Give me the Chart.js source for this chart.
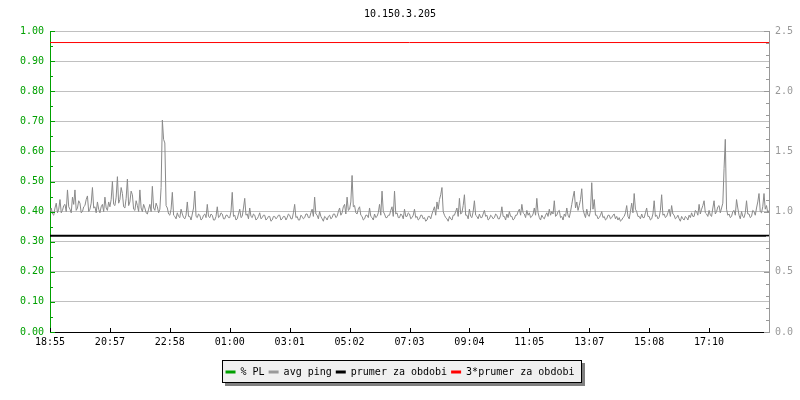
<!DOCTYPE html>
<html><head><meta charset="utf-8">
<script src="https://cdn.jsdelivr.net/npm/chart.js@4/dist/chart.umd.min.js"></script>
<style>html,body{margin:0;padding:0;background:#fff}</style>
</head><body>
<canvas id="c" width="800" height="400"></canvas>
<script>
const chartTitle = '10.150.3.205';
const timeLabels = ['18:55','20:57','22:58','01:00','03:01','05:02','07:03','09:04','11:05','13:07','15:08','17:10'];
const plValues = [];
const pingValues = [
1.00,1.03,0.98,0.97,1.03,1.07,0.99,1.02,1.10,0.99,1.01,1.05,1.06,1.00,1.18,1.04,1.02,0.99,1.12,1.06,
1.18,1.01,1.03,1.09,1.07,0.99,1.00,1.04,1.05,1.10,1.13,1.00,1.02,1.07,1.20,1.03,1.04,0.99,1.08,1.02,
0.99,1.04,1.06,1.00,1.12,1.03,1.01,1.08,1.04,1.10,1.25,1.06,1.05,1.12,1.29,1.07,1.10,1.20,1.15,1.04,
1.03,1.11,1.27,1.05,1.08,1.17,1.14,1.02,1.01,1.09,1.05,1.00,1.18,1.03,1.00,1.06,1.03,0.99,0.98,1.02,
1.06,1.00,1.21,1.03,1.01,1.07,1.04,0.99,1.02,1.20,1.76,1.60,1.57,1.05,1.03,0.98,0.97,1.02,1.16,0.97,
0.96,0.94,0.99,0.96,0.95,1.02,0.98,0.95,0.94,0.97,1.08,0.96,0.96,0.93,0.98,1.03,1.17,0.96,0.95,0.98,
0.97,0.93,0.94,0.97,0.98,0.95,1.06,0.96,0.95,0.98,0.97,0.93,0.93,0.96,1.04,0.95,0.96,0.99,0.98,0.94,
0.94,0.97,0.97,0.95,0.95,1.00,1.16,0.96,0.97,0.93,0.94,0.98,1.02,0.95,0.96,1.03,1.11,0.97,0.98,0.94,
1.03,0.96,0.95,0.98,0.97,0.93,0.94,0.96,0.99,0.94,0.95,0.97,0.97,0.93,0.94,0.96,0.96,0.92,0.93,0.96,
0.96,0.94,0.95,0.97,0.97,0.93,0.94,0.96,0.96,0.93,0.95,0.98,0.97,0.94,0.94,0.99,1.06,0.95,0.96,0.93,
0.93,0.97,0.96,0.94,0.95,0.98,0.98,0.95,0.95,0.99,1.02,0.96,1.12,0.98,0.97,0.94,1.00,0.96,0.94,0.92,
0.96,0.95,0.93,0.96,0.97,0.94,0.95,0.98,0.98,0.95,0.96,1.00,1.03,0.97,0.99,1.04,1.06,0.98,1.12,1.01,
1.02,1.08,1.30,1.04,1.05,0.99,0.98,1.02,1.04,0.97,0.96,0.93,0.94,0.97,0.97,0.95,1.03,0.96,0.95,0.93,
0.98,0.95,0.96,0.99,1.06,0.97,1.17,1.00,0.98,0.95,0.95,0.97,0.97,1.01,1.04,0.96,1.17,0.98,0.99,0.95,
0.95,0.98,0.97,0.94,1.02,0.96,0.96,0.99,0.98,0.94,0.95,0.97,1.02,0.95,0.96,0.93,0.94,0.97,0.97,0.94,
0.95,0.92,0.93,0.96,0.96,0.94,0.98,1.01,1.04,0.97,1.08,1.02,1.10,1.14,1.20,1.00,0.97,0.95,0.94,0.92,
0.96,0.94,0.93,0.97,0.97,1.00,1.03,0.96,1.11,0.98,0.99,1.05,1.14,0.97,0.97,0.94,1.02,0.96,0.95,1.00,
1.09,0.97,0.96,0.94,0.98,0.95,0.95,0.98,1.01,0.96,0.97,0.93,0.94,0.97,0.96,0.94,0.95,0.98,0.97,0.94,
0.94,0.97,1.04,0.96,0.96,0.93,0.98,0.95,1.00,0.96,0.96,0.93,0.94,0.97,0.97,1.00,1.02,0.97,1.06,0.99,
0.98,0.95,1.01,0.97,0.99,0.95,0.96,0.98,1.03,0.97,1.11,0.99,0.95,0.93,0.97,0.95,0.94,0.97,0.99,0.96,
1.02,0.97,1.00,0.98,1.09,0.96,0.97,1.00,1.01,0.95,0.96,0.93,0.98,0.96,1.03,0.97,0.95,1.00,1.06,1.12,
1.17,1.03,1.08,1.01,1.05,1.10,1.19,1.02,0.98,0.95,1.02,0.97,0.96,1.01,1.24,1.02,1.10,0.97,0.97,0.94,
0.95,0.97,1.00,0.95,0.96,0.93,0.94,0.97,0.97,0.94,0.95,0.97,0.98,0.94,0.96,0.93,0.95,0.92,0.93,0.95,
0.96,0.99,1.05,0.96,0.94,1.00,1.07,0.99,1.15,1.02,1.00,0.96,0.96,0.94,0.98,0.95,0.95,0.99,1.03,0.96,
0.96,0.93,0.94,0.98,1.09,0.96,0.97,0.94,0.95,1.01,1.14,0.97,0.98,0.95,0.96,0.99,1.02,0.96,1.05,0.98,
0.97,0.94,0.95,0.97,0.94,0.92,0.96,0.94,0.93,0.96,0.95,0.93,0.97,0.95,0.99,0.96,0.96,1.01,1.00,0.97,
1.06,0.98,1.02,1.05,1.09,0.99,0.98,0.96,1.01,0.97,0.96,1.03,1.09,0.98,1.00,1.04,1.05,0.99,1.03,1.07,
1.36,1.60,1.02,0.97,0.98,0.95,0.96,1.00,1.01,0.97,1.10,1.03,0.97,0.94,1.00,0.96,0.95,0.99,1.09,0.98,
0.98,0.95,0.96,1.01,1.00,0.97,1.03,1.08,1.15,1.00,0.99,1.04,1.15,1.02,1.05,0.99,1.01
];
const prumer = 0.80;      // avg ping over period (right axis units)
const prumer3 = 2.40;     // 3 * avg
const leftMax = 1.0, rightMax = 2.5;

const GREEN = '#00a000', GRAY = '#999999', GRID = '#c0c0c0';
const MONO = "'DejaVu Sans Mono', monospace";
const lastIdx = pingValues.length - 1;

const bgAndLegendBox = {
  id: 'bgBox',
  beforeDraw(chart) {
    const ctx = chart.ctx;
    ctx.save();
    ctx.fillStyle = '#fff';
    ctx.fillRect(0, 0, chart.width, chart.height);
    const lg = chart.legend;
    if (lg && lg.legendHitBoxes && lg.legendHitBoxes.length) {
      const hb = lg.legendHitBoxes;
      const l = Math.round(hb[0].left) - 4;
      const r = Math.round(hb[hb.length - 1].left + hb[hb.length - 1].width) + 8;
      const cy = Math.round(hb[0].top + hb[0].height / 2);
      const t = cy - 12, b = cy + 11;
      ctx.fillStyle = '#808080';
      ctx.fillRect(l + 3, t + 3, r - l, b - t);
      ctx.fillStyle = '#f0f0f0';
      ctx.fillRect(l, t, r - l, b - t);
      ctx.strokeStyle = '#000';
      ctx.lineWidth = 1;
      ctx.strokeRect(l + 0.5, t + 0.5, r - l - 1, b - t - 1);
    }
    ctx.restore();
  }
};

// shift the thin red line by half a pixel so it renders crisp
const crispLines = {
  id: 'crispLines',
  beforeDatasetDraw(chart, args) {
    chart.ctx.save();
    if (args.index === 3) chart.ctx.translate(0, -0.5);
  },
  afterDatasetDraw(chart) { chart.ctx.restore(); }
};

const axisTicks = {
  id: 'axisTicks',
  afterDraw(chart) {
    const {ctx, chartArea: a, scales} = chart;
    const line = (x1, y1, x2, y2) => { ctx.beginPath(); ctx.moveTo(x1, y1); ctx.lineTo(x2, y2); ctx.stroke(); };
    ctx.save();
    ctx.lineWidth = 1;
    ctx.strokeStyle = GREEN;
    for (let k = 0; k <= 20; k++) {
      const py = Math.round(scales.y.getPixelForValue(k * leftMax / 20)) + 0.5;
      const len = k % 2 === 0 ? 5 : 3;
      line(a.left, py, a.left + len, py);
    }
    ctx.strokeStyle = GRAY;
    for (let k = 0; k <= 25; k++) {
      const py = Math.round(scales.y1.getPixelForValue(k * rightMax / 25)) + 0.5;
      const len = k % 5 === 0 ? 5 : 3;
      line(a.right, py, a.right - len, py);
    }
    ctx.strokeStyle = '#000';
    scales.x.ticks.forEach(t => {
      const px = Math.round(scales.x.getPixelForValue(t.value)) + 0.5;
      line(px, a.bottom, px, a.bottom - 4);
    });
    ctx.restore();
  }
};

new Chart(document.getElementById('c'), {
  type: 'line',
  data: {
    datasets: [
      { label: '% PL', data: plValues, borderColor: GREEN, backgroundColor: GREEN, yAxisID: 'y', borderWidth: 1, pointRadius: 0 },
      { label: 'avg ping', data: pingValues.map((v, i) => ({x: i, y: v})), borderColor: '#8a8a8a', backgroundColor: GRAY,
        yAxisID: 'y1', borderWidth: 1, pointRadius: 0, tension: 0 },
      { label: 'prumer za obdobi', data: [{x: 0, y: prumer}, {x: lastIdx, y: prumer}], borderColor: '#000', backgroundColor: '#000',
        yAxisID: 'y1', borderWidth: 2, pointRadius: 0 },
      { label: '3*prumer za obdobi', data: [{x: 0, y: prumer3}, {x: lastIdx, y: prumer3}], borderColor: '#ff0000', backgroundColor: '#ff0000',
        yAxisID: 'y1', borderWidth: 1, pointRadius: 0 }
    ]
  },
  options: {
    responsive: false,
    devicePixelRatio: 1,
    animation: false,
    events: [],
    layout: { padding: { top: 0, left: 0, right: 0, bottom: 13 } },
    plugins: {
      title: { display: true, text: chartTitle, color: '#000', font: { family: MONO, size: 10, weight: 'normal' }, padding: { top: 8, bottom: 11 } },
      legend: {
        position: 'bottom',
        labels: {
          font: { family: MONO, size: 10 }, color: '#000', boxWidth: 10, boxHeight: 3, padding: 4,
          generateLabels: chart => chart.data.datasets.map((d, i) => ({
            text: d.label, fillStyle: i === 1 ? GRAY : d.borderColor, strokeStyle: d.borderColor, lineWidth: 0,
            hidden: false, datasetIndex: i, fontColor: '#000'
          }))
        }
      },
      tooltip: { enabled: false }
    },
    scales: {
      x: {
        type: 'linear', min: 0, max: lastIdx,
        afterBuildTicks: s => { s.ticks = timeLabels.map((_, k) => ({ value: k * lastIdx / 12 })); },
        afterFit: s => { s.height = 31; },
        ticks: { autoSkip: false, maxRotation: 0, color: '#000', font: { family: MONO, size: 10 }, padding: 4,
          callback: (v, i) => timeLabels[i] },
        grid: { display: false, drawTicks: false },
        border: { display: true, color: '#000', width: 1 }
      },
      y: {
        position: 'left', min: 0, max: leftMax,
        afterFit: s => { s.width = 50; },
        ticks: { stepSize: 0.1, color: GREEN, font: { family: MONO, size: 10 }, padding: 6,
          callback: v => Number(v).toFixed(2) },
        grid: { color: GRID, drawTicks: false },
        border: { display: true, color: GREEN, width: 1 }
      },
      y1: {
        position: 'right', min: 0, max: rightMax,
        afterFit: s => { s.width = 31; },
        ticks: { stepSize: 0.5, color: GRAY, font: { family: MONO, size: 10 }, padding: 6,
          callback: v => Number(v).toFixed(1) },
        grid: { drawOnChartArea: false, drawTicks: false },
        border: { display: true, color: GRAY, width: 1 }
      }
    }
  },
  plugins: [bgAndLegendBox, crispLines, axisTicks]
});
</script>
</body></html>
